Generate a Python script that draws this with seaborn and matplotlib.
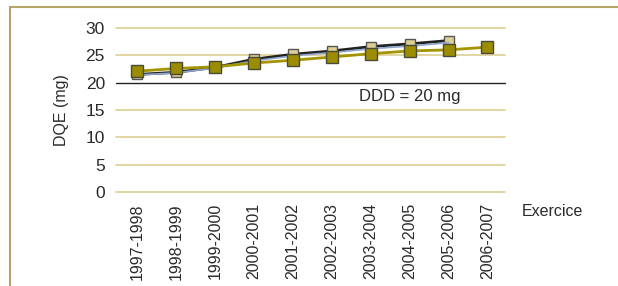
import pandas as pd
import matplotlib
matplotlib.use('Agg')
import matplotlib.pyplot as plt
import seaborn as sns
from matplotlib.patches import Rectangle

# data
exercices = ['1997-1998', '1998-1999', '1999-2000', '2000-2001', '2001-2002',
             '2002-2003', '2003-2004', '2004-2005', '2005-2006', '2006-2007']
dqe_black = [21.5, 21.9, 22.8, 24.3, 25.2, 25.8, 26.6, 27.1, 27.7]
dqe_blue = [21.4, 21.8, 22.7, 24.0, 24.9, 25.5, 26.2, 26.7, 27.3]
dqe_olive = [22.1, 22.6, 22.9, 23.6, 24.1, 24.7, 25.3, 25.8, 26.0, 26.5]
y_ticks = [0, 5, 10, 15, 20, 25, 30]
ddd = 20

df_black = pd.DataFrame({'Exercice': exercices[:len(dqe_black)], 'DQE': dqe_black})
df_blue = pd.DataFrame({'Exercice': exercices[:len(dqe_blue)], 'DQE': dqe_blue})
df_olive = pd.DataFrame({'Exercice': exercices, 'DQE': dqe_olive})

sns.set_style('white')
plt.rcParams['font.family'] = ['Liberation Sans', 'DejaVu Sans']

fig = plt.figure(figsize=(6.18, 2.86), dpi=100)
ax = fig.add_axes([116/618, 1-192/286, (505-116)/618, (192-28)/286])

grid_col = '#E0D29C'
for t in y_ticks:
    if t == ddd:
        ax.axhline(t, color='#222222', lw=1.0, zorder=1, clip_on=False)
    else:
        ax.axhline(t, color=grid_col, lw=1.3, zorder=1, clip_on=False)

sns.lineplot(data=df_black, x='Exercice', y='DQE', sort=False, ax=ax, color='#222222',
             lw=2.0, marker='s', markersize=7.5, markerfacecolor='#DDCF96',
             markeredgecolor='#555555', markeredgewidth=1.0, zorder=3)
sns.lineplot(data=df_blue, x='Exercice', y='DQE', sort=False, ax=ax, color='#8FA6CF',
             lw=1.2, zorder=3)
sns.lineplot(data=df_olive, x='Exercice', y='DQE', sort=False, ax=ax, color='#A39400',
             lw=2.0, marker='s', markersize=8, markerfacecolor='#9C8C00',
             markeredgecolor='#4A4A3A', markeredgewidth=1.0, zorder=4)

ax.set_ylim(0, 30)
ax.set_xlim(-0.55, 9.45)
ax.set_yticks(y_ticks)
ax.tick_params(axis='y', labelsize=12.5, length=0, pad=8, labelcolor='#2a2a2a')
ax.tick_params(axis='x', labelsize=11.5, length=0, pad=8, labelrotation=90, labelcolor='#2a2a2a')
ax.set_xlabel('')
ax.set_ylabel('DQE (mg)', fontsize=11.5, color='#2a2a2a', labelpad=12)
sns.despine(ax=ax, left=True, bottom=True)

ax.text(8.3, ddd - 1.1, 'DDD = 20 mg', ha='right', va='top', fontsize=12, color='#2a2a2a')
fig.text(522/618, 1-212/286, 'Exercice', ha='left', va='center', fontsize=11.5, color='#2a2a2a')

# outer frame of the figure box
fig.patches.append(Rectangle((10/618, -0.1), 1.2, 1 - 7/286 + 0.1, transform=fig.transFigure,
                             fill=False, edgecolor='#B6A56A', lw=1.5, clip_on=False))

plt.savefig('out.png', dpi=100)
